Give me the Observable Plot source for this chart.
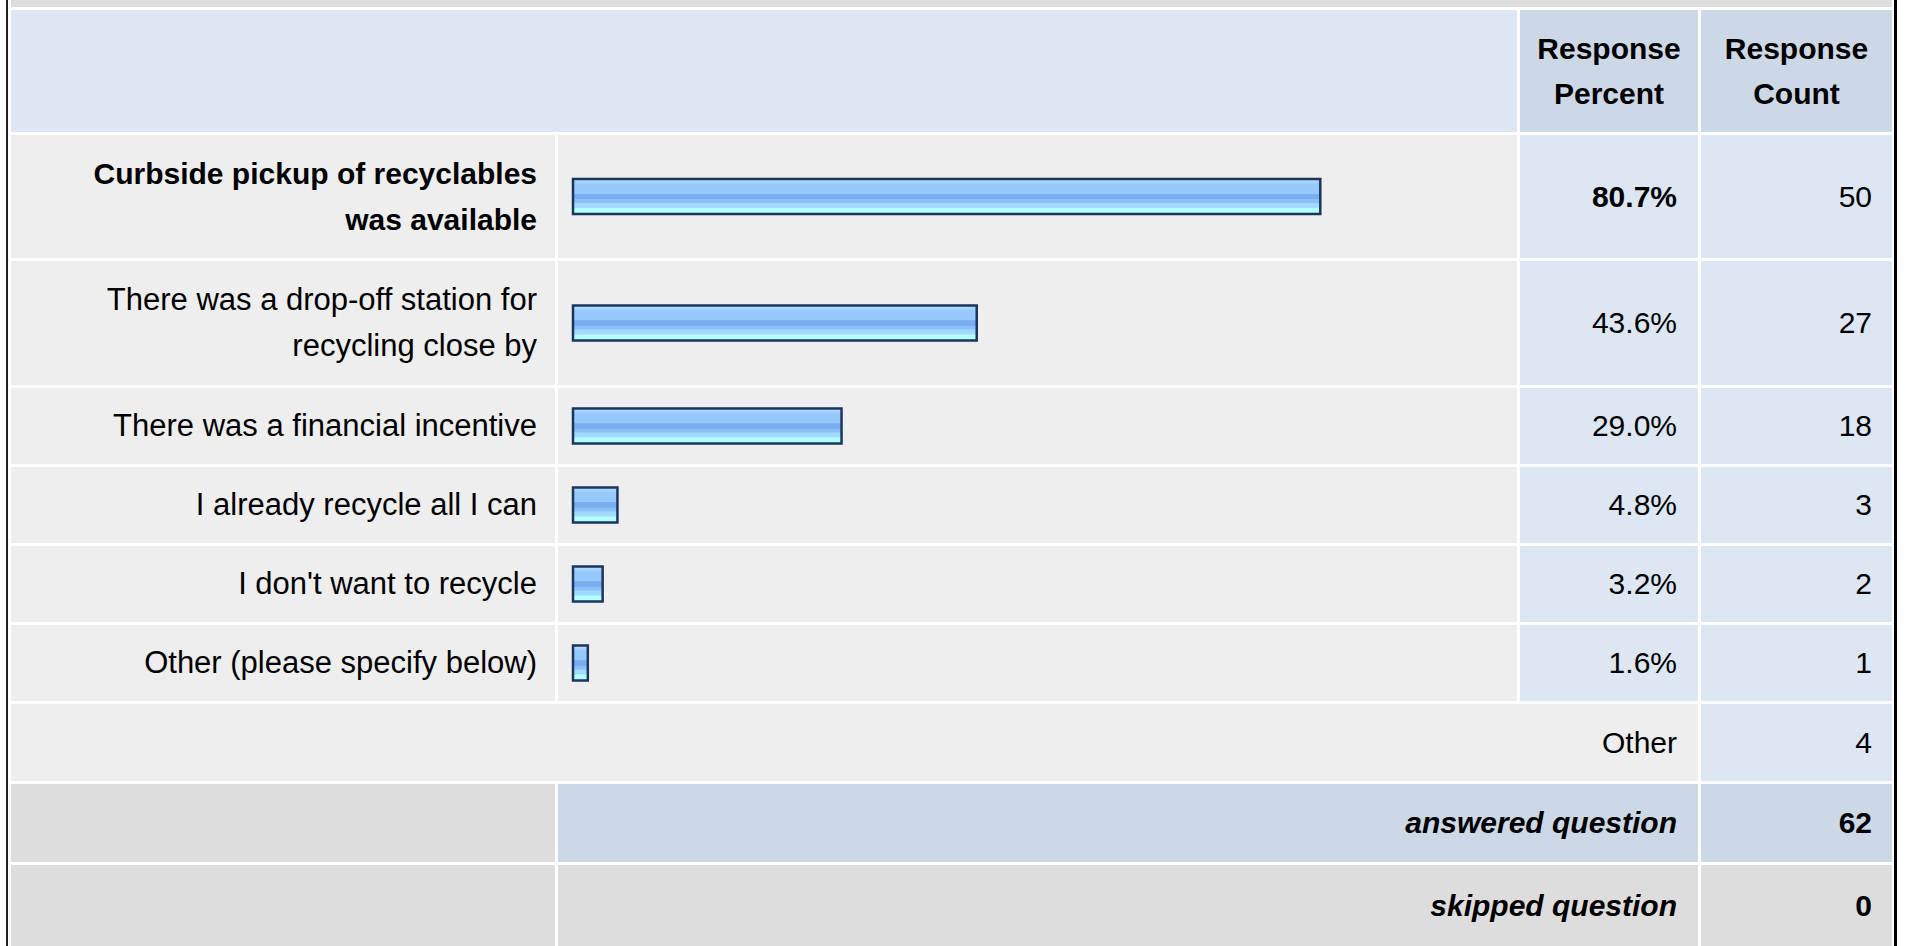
<!DOCTYPE html>
<html>
<head>
<meta charset="utf-8">
<script src="https://cdn.jsdelivr.net/npm/d3@7"></script>
<script src="https://cdn.jsdelivr.net/npm/@observablehq/plot@0.6"></script>
<style>
  html, body { margin: 0; padding: 0; background: #ffffff; }
  body { width: 1907px; height: 946px; position: relative; overflow: hidden;
         font-family: "Liberation Sans", Arial, Helvetica, sans-serif; color: #000; }
  #leftBorder { position: absolute; left: 6px; top: 0; width: 2px; height: 946px; background: #1e1e1e; }
  #rightBorder { position: absolute; left: 1894px; top: 0; width: 3px; height: 946px; background: #000; }
  #grid { position: absolute; left: 11px; top: 0; width: 1881px;
          display: grid; column-gap: 3px; row-gap: 3px;
          grid-template-columns: 544px 959px 178px 191px;
          grid-template-rows: 7px 122px 123px 124px 76px 76px 76px 76px 77px 78px 81px; }
  .cell { display: flex; align-items: center; box-sizing: border-box; overflow: hidden; }
  .strip { background: #dddddd; grid-column: 1 / 5; }
  .hblank { background: #dde7f4; grid-column: 1 / 3; }
  .hcol { background: #cdd8e6; justify-content: center; text-align: center; font-weight: bold;
          font-size: 30px; line-height: 45px; }
  .label { background: #eeeeee; justify-content: flex-end; text-align: right; padding-right: 18px;
           font-size: 31px; line-height: 46px; white-space: pre-line; }
  .label.bold { font-weight: bold; font-size: 30px; }
  .barcell { background: #eeeeee; padding: 0; }
  .pct { background: #dde7f4; justify-content: flex-end; padding-right: 21px; font-size: 30px; }
  .pct.bold { font-weight: bold; }
  .cnt { background: #dde7f4; justify-content: flex-end; padding-right: 20px; font-size: 30px; }
  .otherLabel { background: #eeeeee; grid-column: 1 / 4; justify-content: flex-end; padding-right: 21px; font-size: 30px; }
  .sumBlank { background: #dddddd; }
  .sumLabel { grid-column: 2 / 4; justify-content: flex-end; padding-right: 21px; font-size: 30px;
              font-weight: bold; font-style: italic; }
  .sumCount { justify-content: flex-end; padding-right: 20px; font-size: 30px; font-weight: bold; }
  .ans { background: #cdd8e6; }
  .skp { background: #dddddd; }
</style>
</head>
<body>
<div id="leftBorder"></div>
<div id="rightBorder"></div>
<div id="grid"></div>
<script>
// ---- data ----
const answers = [
  "Curbside pickup of recyclables\nwas available",
  "There was a drop-off station for\nrecycling close by",
  "There was a financial incentive",
  "I already recycle all I can",
  "I don't want to recycle",
  "Other (please specify below)"
];
const percents = [80.7, 43.6, 29.0, 4.8, 3.2, 1.6];
const counts = [50, 27, 18, 3, 2, 1];
const headers = ["Response\nPercent", "Response\nCount"];
const otherLabel = "Other";
const otherCount = 4;
const summaryLabels = ["answered question", "skipped question"];
const summaryValues = [62, 0];

// row heights used for layout (px)
const rowHeights = [123, 124, 76, 76, 76, 76];
const barWidthPx = 959;
const barThickness = 35;

const grid = document.getElementById("grid");
function cell(cls, text) {
  const d = document.createElement("div");
  d.className = "cell " + cls;
  if (text != null) d.textContent = text;
  grid.appendChild(d);
  return d;
}

// top strip
cell("strip");
// header
cell("hblank");
headers.forEach(h => { const c = cell("hcol"); c.style.whiteSpace = "pre-line"; c.textContent = h; });

const maxPct = d3.max(percents);
const NS = "http://www.w3.org/2000/svg";

answers.forEach((a, i) => {
  const isMax = percents[i] === maxPct;
  cell("label" + (isMax ? " bold" : ""), a);
  const bc = cell("barcell");
  const h = rowHeights[i];
  const inset = (h - barThickness) / 2;
  const gid = "barGrad" + i;
  const svg = Plot.plot({
    width: barWidthPx,
    height: h,
    marginTop: 0, marginBottom: 0, marginLeft: 0, marginRight: 0,
    style: { background: "transparent", overflow: "visible" },
    x: { domain: [0, 100], range: [15, 941], axis: null },
    marks: [
      Plot.barX([percents[i]], {
        x1: 0, x2: d => d,
        insetTop: inset, insetBottom: inset,
        fill: `url(#${gid})`, stroke: "#1b365d", strokeWidth: 2.5
      })
    ]
  });
  // gradient definition
  const defs = document.createElementNS(NS, "defs");
  const lg = document.createElementNS(NS, "linearGradient");
  lg.setAttribute("id", gid);
  lg.setAttribute("x1", "0"); lg.setAttribute("y1", "0");
  lg.setAttribute("x2", "0"); lg.setAttribute("y2", "1");
  [["0%", "#c4e0ff"], ["8%", "#a8d3ff"], ["16%", "#96c8fc"], ["42%", "#96c8fc"],
   ["43%", "#78aef0"], ["57%", "#78aef0"], ["58%", "#8ac0f8"], ["68%", "#8ac0f8"],
   ["69%", "#a2d8fc"], ["82%", "#a4dcfc"], ["84%", "#b4ffff"], ["100%", "#b4ffff"]]
    .forEach(([o, c]) => {
      const s = document.createElementNS(NS, "stop");
      s.setAttribute("offset", o); s.setAttribute("stop-color", c);
      lg.appendChild(s);
    });
  defs.appendChild(lg);
  svg.insertBefore(defs, svg.firstChild);
  svg.style.display = "block";
  bc.appendChild(svg);

  cell("pct" + (isMax ? " bold" : ""), percents[i].toFixed(1) + "%");
  cell("cnt", String(counts[i]));
});

// other row
cell("otherLabel", otherLabel);
cell("cnt", String(otherCount));

// summary rows
summaryLabels.forEach((s, i) => {
  const cls = i === 0 ? "ans" : "skp";
  cell("sumBlank");
  cell("sumLabel " + cls, s);
  cell("sumCount " + cls, String(summaryValues[i]));
});
</script>
</body>
</html>
